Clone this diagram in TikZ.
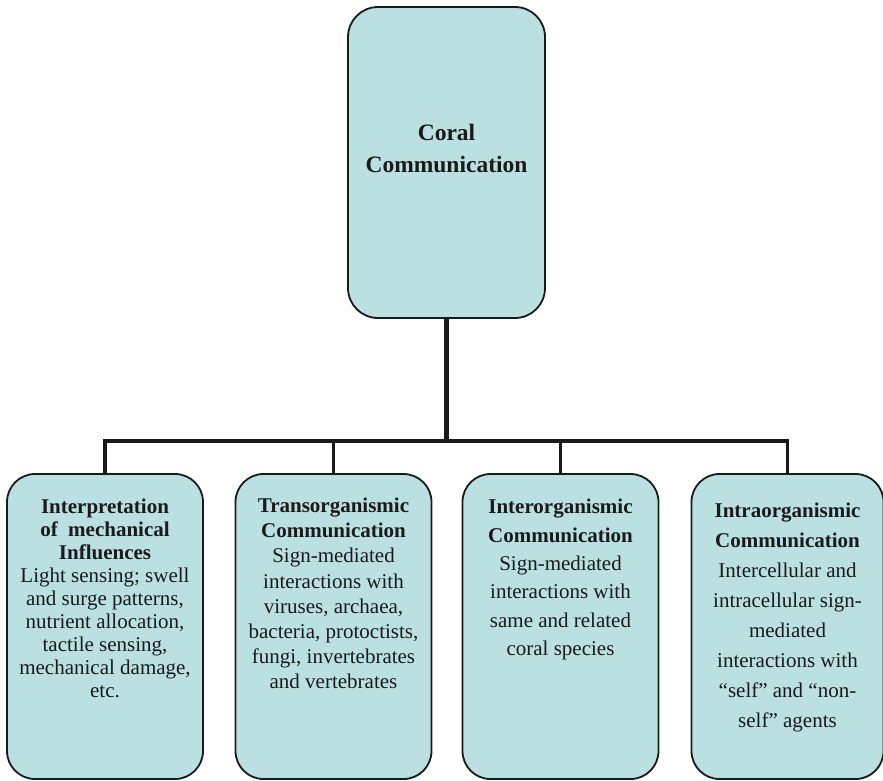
\documentclass[tikz,border=0pt]{standalone}
\usepackage{fontspec}
\setmainfont{Liberation Serif}
\definecolor{boxfill}{RGB}{186,224,225}
\definecolor{edge}{RGB}{26,26,26}
\begin{document}
\begin{tikzpicture}[x=1pt,y=-1pt,
  panel/.style={draw=edge, line width=1.8pt, fill=boxfill, rounded corners=28pt,
    minimum width=196pt, minimum height=305pt, inner sep=0pt},
  headbox/.style={panel, minimum width=197pt, minimum height=311pt, rounded corners=30pt},
  caption/.style={anchor=north, align=center, inner sep=0pt, text=edge},
  link/.style={draw=edge, line width=3.5pt}
]
\useasboundingbox (0,0) rectangle (883,780);

% boxes
\node[headbox] (root) at (446.5,162.5) {};
\node[panel] (mech) at (105,626.5) {};
\node[panel] (trans) at (333.5,626.5) {};
\node[panel] (inter) at (560.5,626.5) {};
\node[panel, minimum width=192pt] (intra) at (787.5,626.5) {};

% texts
\node[caption, font=\fontsize{23.5}{32.5}\selectfont\bfseries] (roottxt) at (446.5,123.5)
  {Coral\\Communication};
\node[caption, font=\fontsize{21}{23}\selectfont] (mechtxt) at (105,499)
  {\textbf{Interpretation}\\\textbf{of~ mechanical}\\\textbf{Influences}\\
   Light sensing; swell\\and surge patterns,\\nutrient allocation,\\
   tactile sensing,\\mechanical damage,\\etc.};
\node[caption, font=\fontsize{21}{25.1}\selectfont] (transtxt) at (333.5,498)
  {\textbf{Transorganismic}\\\textbf{Communication}\\Sign-mediated\\interactions with\\
   viruses, archaea,\\bacteria, protoctists,\\fungi, invertebrates\\and vertebrates};
\node[caption, font=\fontsize{21}{28.4}\selectfont] (intertxt) at (560.5,499)
  {\textbf{Interorganismic}\\\textbf{Communication}\\Sign-mediated\\interactions with\\
   same and related\\coral species};
\node[caption, font=\fontsize{21}{30}\selectfont] (intratxt) at (787.5,503)
  {\textbf{Intraorganismic}\\\textbf{Communication}\\Intercellular and\\
   intracellular sign-\\mediated\\interactions with\\“self” and “non-\\self” agents};

% connectors
\coordinate (fork) at (446.5,441);
\draw[link, line width=4.5pt] (root.south) -- (fork);
\draw[link] (mech.north) -- (mech.north |- fork) -- (intra.north |- fork) -- (intra.north);
\draw[link, line width=3pt] (trans.north) -- (trans.north |- fork);
\draw[link, line width=3pt] (inter.north) -- (inter.north |- fork);
\end{tikzpicture}
\end{document}
